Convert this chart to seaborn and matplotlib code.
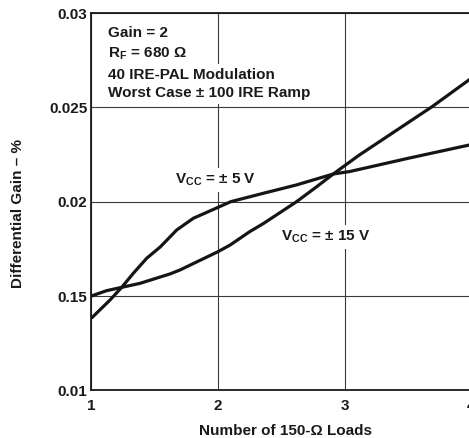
"""
Differential gain vs number of 150-ohm loads, for two supply voltages.
"""

import matplotlib.pyplot as plt
import pandas as pd
import seaborn as sns

# values
loads_5v = [1.0, 1.148, 1.24, 1.331, 1.437, 1.544, 1.674, 1.805, 2.0, 2.1, 2.36, 2.62,
            2.91, 3.04, 3.5, 4.0]
gain_5v = [0.01382, 0.01479, 0.01546, 0.0162, 0.0170, 0.0176, 0.0185, 0.01912, 0.0197,
           0.0200, 0.02045, 0.02089, 0.02147, 0.0216, 0.0223, 0.02303]

loads_15v = [1.0, 1.12, 1.24, 1.384, 1.621, 1.70, 2.0, 2.095, 2.25, 2.36, 2.62, 2.78,
             2.91, 3.11, 3.69, 4.0]
gain_15v = [0.0150, 0.01528, 0.01546, 0.01567, 0.01617, 0.01638, 0.01735, 0.0177,
            0.01841, 0.01885, 0.0200, 0.0208, 0.02147, 0.02245, 0.02504, 0.02655]

x_ticks = [1, 2, 3, 4]
y_ticks = [0.01, 0.015, 0.02, 0.025, 0.03]
y_tick_labels = ['0.01', '0.15', '0.02', '0.025', '0.03']

notes = ['Gain = 2', r'R$_\mathregular{F}$ = 680 Ω', '40 IRE-PAL Modulation',
         'Worst Case ± 100 IRE Ramp']

sns.set_style('white')
plt.rcParams['font.family'] = ['Liberation Sans', 'DejaVu Sans']
plt.rcParams['font.weight'] = 'bold'
plt.rcParams['font.size'] = 11

df = pd.concat([
    pd.DataFrame({'loads': loads_5v, 'gain': gain_5v, 'vcc': '5'}),
    pd.DataFrame({'loads': loads_15v, 'gain': gain_15v, 'vcc': '15'}),
])

fig = plt.figure(figsize=(4.69, 4.38), dpi=100)
ax = fig.add_axes([0.1947, 0.1089, 0.8104, 0.8612])

for vcc, grp in df.groupby('vcc'):
    sns.lineplot(data=grp, x='loads', y='gain', ax=ax, color='#151515',
                 linewidth=2.3, legend=False, zorder=3,
                 solid_joinstyle='round', solid_capstyle='butt')

ax.set_xlim(1, 4)
ax.set_ylim(0.01, 0.03)
ax.set_xticks(x_ticks)
ax.set_xticklabels([str(t) for t in x_ticks])
ax.set_yticks(y_ticks)
ax.set_yticklabels(y_tick_labels)
ax.tick_params(axis='both', length=0, labelsize=11, colors='#1a1a1a')
ax.tick_params(axis='x', pad=6)
ax.tick_params(axis='y', pad=3)
ax.grid(True, color='#3a3a3a', linewidth=0.8, zorder=1)

for side in ['left', 'bottom', 'top', 'right']:
    ax.spines[side].set_color('#1a1a1a')
    ax.spines[side].set_linewidth(1.3)

ax.set_xlabel('Number of 150-Ω Loads', fontsize=11, fontweight='bold', color='#1a1a1a')
ax.set_ylabel('Differential Gain – %', fontsize=11, fontweight='bold', color='#1a1a1a')
ax.xaxis.set_label_coords(0.51, -0.089)
ax.yaxis.set_label_coords(-0.174, 0.47)

box = dict(facecolor='white', edgecolor='none', pad=2.5)
note_y = [0.02894, 0.02786, 0.02672, 0.02576]
for txt, yy in zip(notes, note_y):
    ax.text(1.13, yy, txt, ha='left', va='center', fontsize=11,
            fontweight='bold', color='#1a1a1a', bbox=box, zorder=4)

ax.text(1.98, 0.02115, r'V$_\mathregular{CC}$ = ± 5 V', ha='center', va='center',
        fontsize=11, fontweight='bold', color='#1a1a1a', bbox=box, zorder=4)
ax.text(2.85, 0.01813, r'V$_\mathregular{CC}$ = ± 15 V', ha='center', va='center',
        fontsize=11, fontweight='bold', color='#1a1a1a', bbox=box, zorder=4)

fig.savefig('out.png', dpi=100)
plt.close(fig)
